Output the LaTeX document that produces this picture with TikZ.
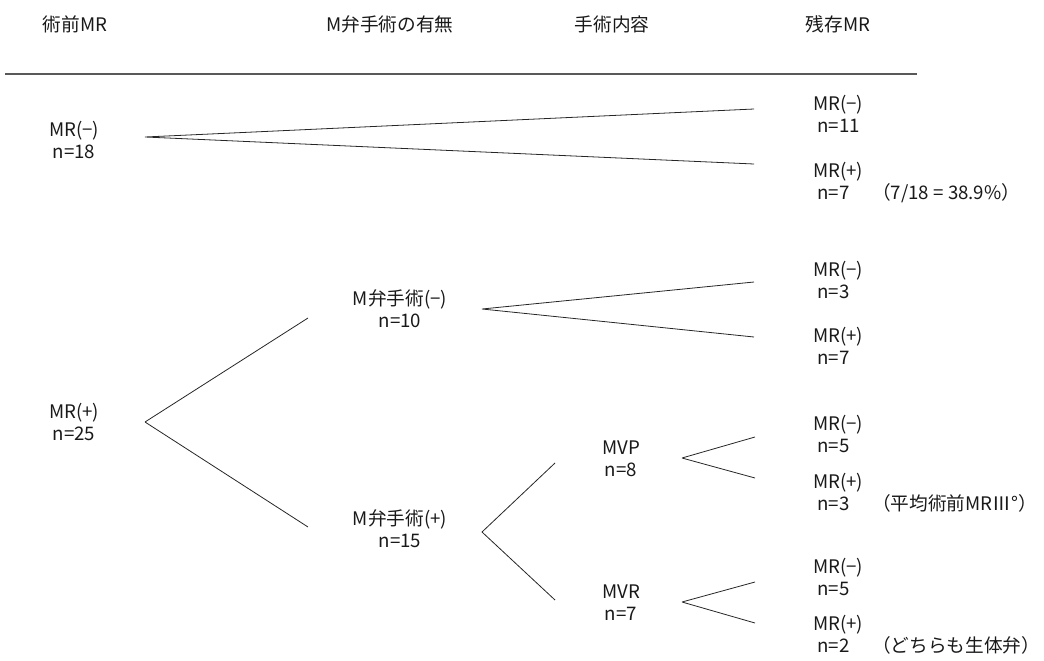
\documentclass[tikz,border=0pt]{standalone}
\usepackage{fontspec}
\setmainfont{Noto Sans CJK JP}
\usetikzlibrary{positioning,calc}

\begin{document}
\begin{tikzpicture}[x=0.75pt, y=-0.75pt,
      every node/.style={font=\fontsize{14}{16.5}\selectfont, inner sep=0pt, text=black!90},
      hd/.style={anchor=center},
      grp/.style={align=center, anchor=center},
      res/.style={align=left, anchor=west},
      note/.style={anchor=west},
      br/.style={line width=0.6pt, black!85, line join=bevel},
      rule/.style={line width=1.1pt, black!65}
    ]
      \useasboundingbox (0,0) rectangle (1044,660);

      % header row
      \node[hd] (h1) at (75,24) {術前MR};
      \node[hd] (h2) at (390,24) {M弁手術の有無};
      \node[hd] (h3) at (612,24) {手術内容};
      \node[hd] (h4) at (838,24) {残存MR};
      \draw[rule] (5,74) -- (917,74);

      % pre-op MR
      \node[grp] (pre0) at (74,140) {MR(−)\\n=18};
      \node[grp] (pre1) at (74,422) {MR(+)\\n=25};
      % valve surgery yes / no
      \node[grp] (mv0) at (400,309) {M弁手術(−)\\n=10};
      \node[grp] (mv1) at (400,529) {M弁手術(+)\\n=15};
      % kind of surgery
      \node[grp] (mvp) at (621,459) {MVP\\n=8};
      \node[grp] (mvr) at (621,603) {MVR\\n=7};

      % residual MR
      \foreach \nm/\yy/\sg/\nn in {r1/114/−/11, r2/181/+/7, r3/280/−/3, r4/346/+/7,
                                   r5/434/−/5, r6/492/+/3, r7/577/−/5, r8/634/+/2} {
        \node[res] (\nm) at (813,\yy) {MR(\sg)\\\hspace{3pt}n=\nn};
      }

      \node[note] (c1) at (872,193) {（7/18 = 38.9\%）};
      \node[note] (c2) at (872,503) {（平均術前MRⅢ°）};
      \node[note] (c3) at (872,645) {（どちらも生体弁）};

      % branches
      \draw[br] ($(r1.west)+(-59,-5)$) -- ($(pre0)+(71,-3)$) -- ($(r2.west)+(-59,-17)$);
      \draw[br] ($(mv0)+(-92,9)$) -- ($(pre1)+(71,0)$) -- ($(mv1)+(-92,-2)$);
      \draw[br] ($(r3.west)+(-59,2)$) -- ($(mv0)+(82,0)$) -- ($(r4.west)+(-59,-9)$);
      \draw[br] ($(mvp)+(-66,4)$) -- ($(mv1)+(82,3)$) -- ($(mvr)+(-66,-3)$);
      \draw[br] ($(r5.west)+(-58,3)$) -- ($(mvp)+(61,-1)$) -- ($(r6.west)+(-58,-14)$);
      \draw[br] ($(r7.west)+(-58,5)$) -- ($(mvr)+(61,-1)$) -- ($(r8.west)+(-58,-11)$);
    \end{tikzpicture}
\end{document}
